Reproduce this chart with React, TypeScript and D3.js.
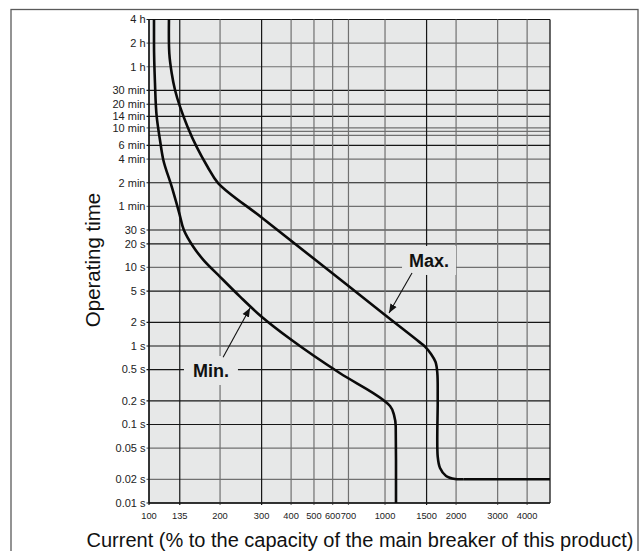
import React from 'react';
import * as d3 from 'd3';

// ---- Data ----
const timeTicks = [14400, 7200, 3600, 1800, 1200, 840, 600, 360, 240, 120, 60, 30, 20, 10, 5, 2, 1, 0.5, 0.2, 0.1, 0.05, 0.02, 0.01];
const timeLabels = ['4 h', '2 h', '1 h', '30 min', '20 min', '14 min', '10 min', '6 min', '4 min', '2 min', '1 min', '30 s', '20 s', '10 s', '5 s', '2 s', '1 s', '0.5 s', '0.2 s', '0.1 s', '0.05 s', '0.02 s', '0.01 s'];
const extraTimeLines = [540, 480];
const currentTicks = [100, 135, 200, 300, 400, 500, 600, 700, 1000, 1500, 2000, 3000, 4000];
const currentLabels = ['100', '135', '200', '300', '400', '500', '600', '700', '1000', '1500', '2000', '3000', '4000'];

const minCurrent = [105, 105, 106, 107.8, 111.3, 115, 124.8, 134.4, 140.5, 154, 169.9, 200, 243, 300, 402, 645, 983, 1050, 1092, 1110, 1113, 1113];
const minTime = [14400, 7244, 2239, 834, 421, 234, 107, 49, 30, 18.4, 12.5, 7.6, 4.25, 2.36, 1.19, 0.449, 0.205, 0.172, 0.132, 0.094, 0.0353, 0.01];

const maxCurrent = [121.5, 121.9, 124.8, 128.9, 135.3, 145.6, 159.0, 177.0, 196.6, 300, 500, 1000, 1400, 1477, 1566, 1637, 1666, 1672, 1672, 1710, 1814, 1981, 2150];
const maxTime = [14400, 5357, 2978, 1824, 1117, 622, 346, 192, 118, 43.3, 12.9, 2.48, 1.12, 0.98, 0.79, 0.625, 0.449, 0.205, 0.0389, 0.0279, 0.0221, 0.0202, 0.0201];
const maxTailCurrent = [2150, 5000];
const maxTailTime = [0.0201, 0.0201];

const labelNames = ['Max.', 'Min.'];
const labelCurrent = [1536, 183];
const labelTime = [12.1, 0.48];
const arrowFromCurrent = [1301, 206];
const arrowFromTime = [8.5, 0.72];
const arrowToCurrent = [1040, 268];
const arrowToTime = [2.63, 3.05];

// ---- Style maps ----
const darkTimeLines = new Set([1800, 1200, 840, 360, 120, 30, 20, 5, 2, 1, 0.5, 0.2, 0.1]);
const darkCurrentLines = new Set([135, 300, 1500]);

const FONT = '"Liberation Sans", Arial, Helvetica, sans-serif';
const BG = '#e7e8e8';

export default function App() {
  const W = 641, H = 551;
  const left = 149, right = 550, top = 19.5, bottom = 503;
  const x = d3.scaleLog().domain([100, 5000]).range([left, right]);
  const y = d3.scaleLog().domain([0.01, 14400]).range([bottom, top]);

  const minLine = d3
    .line<[number, number]>()
    .x((d) => x(d[0]))
    .y((d) => y(d[1]))
    .curve(d3.curveMonotoneY);
  const maxLine = d3
    .line<[number, number]>()
    .x((d) => x(d[0]))
    .y((d) => y(d[1]))
    .curve(d3.curveCatmullRom.alpha(0.5));
  const straight = d3
    .line<[number, number]>()
    .x((d) => x(d[0]))
    .y((d) => y(d[1]));

  const minPts = minCurrent.map((c, i) => [c, minTime[i]] as [number, number]);
  const maxPts = maxCurrent.map((c, i) => [c, maxTime[i]] as [number, number]);
  const tailPts = maxTailCurrent.map((c, i) => [c, maxTailTime[i]] as [number, number]);

  const dark = '#161616';
  const grey = '#707070';

  return (
    <svg width={W} height={H} style={{ position: 'absolute', left: 0, top: 0, background: '#fff' }}>
      <defs>
        <marker id="ah" viewBox="0 0 10 10" refX="10" refY="5" markerWidth="9" markerHeight="9" markerUnits="userSpaceOnUse" orient="auto">
          <path d="M0,1 L10,5 L0,9 z" fill="#111" />
        </marker>
      </defs>
      <rect x={11} y={9.5} width={627} height={560} fill="none" stroke="#5a5a5a" strokeWidth={1.3} />
      <rect x={left} y={top} width={right - left} height={bottom - top} fill={BG} />

      {extraTimeLines.map((t) => (
        <line key={'e' + t} x1={left} x2={right} y1={y(t)} y2={y(t)} stroke={grey} strokeWidth={1.2} />
      ))}
      {timeTicks.map((t) => (
        <line key={'h' + t} x1={left - 2.5} x2={right} y1={y(t)} y2={y(t)}
          stroke={t === 14400 || t === 0.01 ? dark : darkTimeLines.has(t) ? dark : grey} strokeWidth={1.2} />
      ))}
      {currentTicks.map((c) => (
        <line key={'v' + c} x1={x(c)} x2={x(c)} y1={top} y2={bottom + 2}
          stroke={c === 100 ? dark : darkCurrentLines.has(c) ? dark : grey} strokeWidth={1.2} />
      ))}
      <line x1={right} x2={right} y1={top} y2={bottom} stroke={dark} strokeWidth={1.3} />
      <line x1={left} x2={left} y1={top} y2={bottom} stroke={dark} strokeWidth={1.3} />
      <line x1={left} x2={right} y1={bottom} y2={bottom} stroke={dark} strokeWidth={1.4} />

      {labelNames.map((n, i) => (
        <rect key={'b' + n} x={x(labelCurrent[i]) - 27} y={y(labelTime[i]) - 15} width={54} height={29} fill={BG} />
      ))}

      <path d={minLine(minPts) || ''} fill="none" stroke="#0a0a0a" strokeWidth={2.6} strokeLinejoin="round" />
      <path d={maxLine(maxPts) || ''} fill="none" stroke="#0a0a0a" strokeWidth={2.6} strokeLinejoin="round" />
      <path d={straight(tailPts) || ''} fill="none" stroke="#0a0a0a" strokeWidth={2.6} />

      {labelNames.map((n, i) => (
        <line key={'a' + n} x1={x(arrowFromCurrent[i])} y1={y(arrowFromTime[i])} x2={x(arrowToCurrent[i])} y2={y(arrowToTime[i])}
          stroke="#111" strokeWidth={1.1} markerEnd="url(#ah)" />
      ))}
      {labelNames.map((n, i) => (
        <text key={'t' + n} x={x(labelCurrent[i])} y={y(labelTime[i])} dy="0.36em" textAnchor="middle"
          fontFamily={FONT} fontWeight="bold" fontSize={18} fill="#111">{n}</text>
      ))}

      {timeTicks.map((t, i) => (
        <text key={'yl' + t} x={left - 3.5} y={y(t)} dy="0.35em" textAnchor="end" fontFamily={FONT} fontSize={11} fill="#222">{timeLabels[i]}</text>
      ))}
      {currentTicks.map((c, i) => (
        <text key={'xl' + c} x={x(c)} y={518.5} textAnchor="middle" fontFamily={'"Liberation Sans Narrow", ' + FONT} fontSize={9.3} fill="#222">{currentLabels[i]}</text>
      ))}

      <text transform="translate(100,260) rotate(-90)" textAnchor="middle" fontFamily={FONT} fontSize={20.5} fill="#111">Operating time</text>
      <text x={360} y={547} textAnchor="middle" fontFamily={FONT} fontSize={20} fill="#111">Current (% to the capacity of the main breaker of this product)</text>
    </svg>
  );
}
